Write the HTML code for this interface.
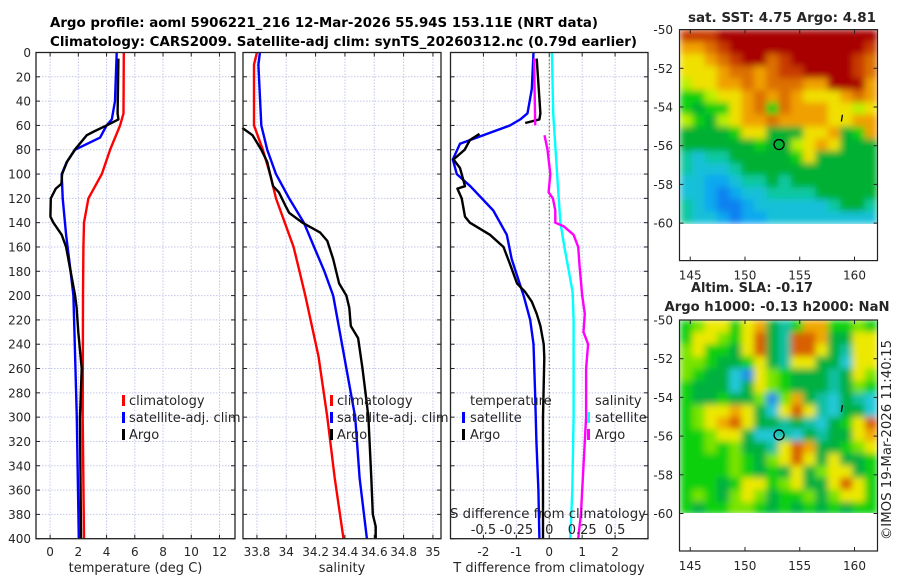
<!DOCTYPE html>
<html><head><meta charset="utf-8"><style>
html,body{margin:0;padding:0;background:#fff;}
svg{display:block;font-family:"DejaVu Sans","Liberation Sans",sans-serif;}
</style></head><body>
<svg id="fig" width="900" height="580" viewBox="0 0 900 580" xmlns="http://www.w3.org/2000/svg">
<defs>
<filter id="blur" x="0" y="0" width="1" height="1"><feGaussianBlur stdDeviation="3.5" edgeMode="duplicate"/></filter>
<clipPath id="clipTop"><rect x="680" y="30" width="197" height="194"/></clipPath>
<clipPath id="clipBot"><rect x="680" y="320" width="197" height="193"/></clipPath>
</defs>
<text x="50" y="27" font-size="13" font-weight="bold" textLength="548" lengthAdjust="spacingAndGlyphs">Argo profile: aoml 5906221_216 12-Mar-2026 55.94S 153.11E (NRT data)</text>
<text x="50" y="46" font-size="13" font-weight="bold" textLength="587" lengthAdjust="spacingAndGlyphs">Climatology: CARS2009. Satellite-adj clim: synTS_20260312.nc (0.79d earlier)</text>
<g id="plots"></g>
</svg>
<script>
// ---------- data ----------
const tempClimDepth = [0,50,60,80,100,120,140,160,200,300,400];
const tempClim      = [5.22,5.2,4.96,4.25,3.66,2.71,2.4,2.36,2.33,2.31,2.4];
const tempSatDepth  = [0,40,55,60,70,80,90,100,120,150,180,200,220,300,400];
const tempSat       = [4.72,4.6,4.37,4.0,3.54,1.77,1.18,0.82,0.89,1.13,1.45,1.65,1.7,1.89,2.03];
const tempArgoDepth = [5,50,55,60,65,68,75,80,90,100,108,112,120,135,140,150,160,200,210,230,260,300,400];
const tempArgo      = [4.84,4.78,4.84,4.0,3.1,2.6,2.1,1.75,1.2,0.85,0.8,0.4,0.05,0.02,0.23,0.82,1.13,1.77,1.88,2.0,2.24,2.12,2.19];

const salClimDepth = [0,10,60,80,100,120,140,160,180,200,250,300,350,400];
const salClim      = [33.8,33.78,33.78,33.84,33.89,33.93,33.99,34.05,34.09,34.13,34.22,34.28,34.33,34.39];
const salSatDepth  = [0,10,60,70,80,100,120,140,160,180,200,220,260,300,350,400];
const salSat       = [33.82,33.81,33.83,33.85,33.87,33.93,34.02,34.12,34.19,34.26,34.32,34.35,34.41,34.47,34.5,34.55];
const salArgoDepth = [62,68,80,90,100,110,115,125,132,140,148,155,170,190,200,210,225,235,260,280,300,350,380,390,400];
const salArgo      = [33.70,33.77,33.83,33.87,33.89,33.91,33.95,33.99,34.02,34.11,34.23,34.28,34.32,34.36,34.41,34.43,34.44,34.49,34.52,34.54,34.56,34.58,34.59,34.61,34.61];

const dTSatDepth  = [0,30,50,55,60,75,88,100,110,130,150,170,200,220,240,280,320,360,400];
const dTSat       = [-0.48,-0.53,-0.66,-0.88,-1.19,-2.71,-2.93,-2.81,-2.4,-1.7,-1.29,-1.14,-0.78,-0.58,-0.48,-0.43,-0.39,-0.33,-0.3];
const dTArgoDepth = [5,50,55,58,62,67,72,80,88,95,110,112,120,135,140,150,160,175,190,197,205,215,225,240,251,300,400];
const dTArgo      = [-0.38,-0.27,-0.3,-0.73,null,-2.12,-2.41,-2.57,-2.91,-2.71,-2.56,-2.79,-2.66,-2.56,-2.41,-1.8,-1.39,-1.18,-0.98,-0.73,-0.53,-0.38,-0.27,-0.17,-0.15,-0.19,-0.19];
const dSSatDepth  = [0,50,100,140,160,197,220,300,360,400];
const dSSat       = [0.02,0.03,0.06,0.085,0.115,0.177,0.185,0.185,0.175,0.16];
const dSArgoDepth = [5,60,64,68,80,100,115,120,130,140,143,150,160,175,200,215,230,240,260,300,320,340,360,380,400];
const dSArgo      = [-0.115,-0.107,null,-0.036,-0.013,0.008,-0.005,0.028,0.046,0.046,0.11,0.185,0.22,0.23,0.25,0.27,0.26,0.295,0.28,0.28,0.27,0.26,0.25,0.24,0.22];

const depthTicks = [0,20,40,60,80,100,120,140,160,180,200,220,240,260,280,300,320,340,360,380,400];
const tempTicks = [0,2,4,6,8,10,12];
const salTicks = [33.8,34,34.2,34.4,34.6,34.8,35];
const salTickLabels = ["33.8","34","34.2","34.4","34.6","34.8","35"];
const diffTicks = [-2,-1,0,1,2];
const sDiffTicks = [-0.5,-0.25,0,0.25,0.5];
const sDiffLabels = ["-0.5","-0.25","0","0.25","0.5"];
const latTicks = [-50,-52,-54,-56,-58,-60];
const lonTicks = [145,150,155,160];
const argoLon = 153.11, argoLat = -55.94;

const sstGrid = [
"rrrRRRRRRRRRRRRR","ooOrRRRRRRRRRRRr","yyoOrRROrRRRRRrO","yyyoOOoOrrRRRRrO",
"lyyooOoOOOooRRRo","gglyyoOoOoyyyoOo","gGggyoOgOoooyyly","lgGlyooOooooyyoo",
"GGGGgyyGGGyyoGgo","GGGGGGgGGlyoyGGG","tcttGGGGGgyGGGGG","tccctGGGGGGGGGGG",
"ccbbcttGtGGGGGGG","ccbBbccttttGGGGG","tcbBBbcccccctGGt","tccbBbbccccccccc"];
const slaGrid = [
"glyygyoGtgoogglg","gyylgyOGtOOoGGyy","lyggGyOGtOOyGtyy","llgGGgyGtyyGGcyy",
"lgGGcbylgGGGtGyl","gGGGcGylgGGGtGlg","gGGgGGlbloGtcGtc","glyyoyGcyOytcGGc",
"glyoOyGGtGtcGgyO","gglyyGcctcGtGGyo","gglglGGtyOoGGgly","gggglgGlyOyGyGGg",
"gggglgGgGyGlyyGg","gggGgyyglyGGyOyg","glgGlylGgglGlyyg","gGggllgGgGgGgGgg"];

// ---------- helpers ----------
const NS="http://www.w3.org/2000/svg";
const root=document.getElementById('plots');
function mk(tag,attrs,parent){const e=document.createElementNS(NS,tag);for(const k in attrs)e.setAttribute(k,attrs[k]);(parent||root).appendChild(e);return e;}
const Y0=52.5,Y1=538.7;
const yD=d=>Y0+(Y1-Y0)*d/400;
function lin(d0,d1,r0,r1){return v=>r0+(v-d0)*(r1-r0)/(d1-d0);}
const xT=lin(-1,13.1,36,235);
const xS=lin(33.705,35.055,243,441);
const xD=lin(-3,3,450.5,648);

function grid(x0,x1,xs,fx){
  depthTicks.forEach(d=>{const l=mk('line',{x1:x0,x2:x1,y1:yD(d),y2:yD(d),stroke:'#c4c8e8','stroke-width':1,'stroke-dasharray':'1.5,1.5'});
  
  
  mk('line',{x1:x0,x2:x0+4,y1:yD(d),y2:yD(d),stroke:'#222'});mk('line',{x1:x1-4,x2:x1,y1:yD(d),y2:yD(d),stroke:'#222'});});
  xs.forEach(v=>{const x=fx(v);const l=mk('line',{x1:x,x2:x,y1:Y0,y2:Y1,stroke:'#c4c8e8','stroke-width':1,'stroke-dasharray':'1.5,1.5'});
  
  
  mk('line',{x1:x,x2:x,y1:Y1-4,y2:Y1,stroke:'#222'});mk('line',{x1:x,x2:x,y1:Y0,y2:Y0+4,stroke:'#222'});});
}
function frame(x0,x1,name){const r=mk('rect',{x:x0,y:Y0,width:x1-x0,height:Y1-Y0,fill:'none',stroke:'#222','stroke-width':1.3});
  
  }
function line(depths,vals,fx,color,name,w){
  let d='',pen=false;
  depths.forEach((z,i)=>{const v=vals[i];if(v===null||v===undefined){pen=false;return;}
    d+=(pen?'L':'M')+fx(v).toFixed(1)+','+yD(z).toFixed(1);pen=true;});
  const p=mk('path',{d:d,fill:'none',stroke:color,'stroke-width':w||2.4,'stroke-linejoin':'round'});
  
  
}
function txt(x,y,s,opt,name){const t=mk('text',Object.assign({x:x,y:y,'font-size':13,fill:'#262626'},opt||{}));t.textContent=s;
  
  return t;}
function mark(x,y,color,name){const r=mk('rect',{x:x,y:y-10,width:3,height:11,fill:color});
  
  }
const TK={'font-size':12,'text-anchor':'middle'};

// ---------- panel 1 temperature ----------
grid(36,235,tempTicks,xT);
depthTicks.forEach(d=>txt(31,yD(d)+4.5,String(d),{'text-anchor':'end','font-size':12},'y-tick-label'));
tempTicks.forEach(v=>txt(xT(v),556,String(v),TK,'x-tick-label-temp'));
txt(135.5,572,'temperature (deg C)',{'text-anchor':'middle'},'x-axis-title-temp');
line(tempClimDepth,tempClim,xT,'#f00','temp-climatology-line');
line(tempSatDepth,tempSat,xT,'#00f','temp-satellite-line');
line(tempArgoDepth,tempArgo,xT,'#000','temp-argo-line');
frame(36,235,'temp-panel');
mark(122,405,'#f00','legend-marker-climatology');txt(129,405,'climatology',{},'legend-entry-climatology');
mark(122,422,'#00f','legend-marker-satellite');txt(129,422,'satellite-adj. clim',{},'legend-entry-satellite');
mark(122,439,'#000','legend-marker-argo');txt(129,439,'Argo',{},'legend-entry-argo');

// ---------- panel 2 salinity ----------
grid(243,441,salTicks,xS);
salTicks.forEach((v,i)=>txt(xS(v),556,salTickLabels[i],TK,'x-tick-label-sal'));
txt(342,572,'salinity',{'text-anchor':'middle'},'x-axis-title-sal');
line(salClimDepth,salClim,xS,'#f00','sal-climatology-line');
line(salSatDepth,salSat,xS,'#00f','sal-satellite-line');
line(salArgoDepth,salArgo,xS,'#000','sal-argo-line');
frame(243,441,'salinity-panel');
mark(330,405,'#f00','legend-marker-climatology');txt(337,405,'climatology',{},'legend-entry-climatology');
mark(330,422,'#00f','legend-marker-satellite');txt(337,422,'satellite-adj. clim',{},'legend-entry-satellite');
mark(330,439,'#000','legend-marker-argo');txt(337,439,'Argo',{},'legend-entry-argo');

// ---------- panel 3 differences ----------
grid(450.5,648,diffTicks,xD);
const zl=mk('line',{x1:xD(0),x2:xD(0),y1:Y0,y2:Y1,stroke:'#556b2f','stroke-width':1,'stroke-dasharray':'1.5,2'});


diffTicks.forEach(v=>txt(xD(v),556,String(v),TK,'x-tick-label-diff'));
txt(549,572,'T difference from climatology',{'text-anchor':'middle'},'x-axis-title-diff');
const xSD=v=>xD(v*4);
line(dTSatDepth,dTSat,xD,'#00f','dT-satellite-line');
line(dTArgoDepth,dTArgo,xD,'#000','dT-argo-line');
line(dSSatDepth,dSSat,xSD,'#0ff','dS-satellite-line');
line(dSArgoDepth,dSArgo,xSD,'#f0f','dS-argo-line');
frame(450.5,648,'difference-panel');
txt(470,405,'temperature',{},'legend-title-temperature');
mark(462,422,'#00f','legend-marker-t-satellite');txt(470,422,'satellite',{},'legend-entry-t-satellite');
mark(462,439,'#000','legend-marker-t-argo');txt(470,439,'Argo',{},'legend-entry-t-argo');
txt(595,405,'salinity',{},'legend-title-salinity');
mark(587,422,'#0ff','legend-marker-s-satellite');txt(595,422,'satellite',{},'legend-entry-s-satellite');
mark(587,439,'#f0f','legend-marker-s-argo');txt(595,439,'Argo',{},'legend-entry-s-argo');
txt(450,518,'S difference from climatology',{textLength:196,lengthAdjust:'spacingAndGlyphs'},'s-axis-title');
sDiffTicks.forEach((v,i)=>txt(xSD(v),534,sDiffLabels[i],{'text-anchor':'middle'},'s-tick-label'));

// ---------- maps ----------
const sstCol={R:'#a80000',r:'#c83a00',O:'#dc7000',o:'#f0a000',y:'#f0e000',l:'#b8f000',g:'#10d010',G:'#00b030',t:'#10c8a0',c:'#18c0d8',b:'#10a8f0',B:'#1080f0'};
const slaCol={g:'#10d010',G:'#00b040',l:'#78e400',y:'#ece800',o:'#f0a800',O:'#d86000',t:'#10c0a0',c:'#20c8d8',b:'#2090e8'};
const mx=lin(144.02,162.1,679.5,877.5);
function drawMap(gridRows,cols,yTop,clip,name){
  const yLat=lin(-50,-60,yTop,yTop+193.5);
  const g=mk('g',{'clip-path':'url(#'+clip+')'});
  
  
  const gi=mk('g',{filter:'url(#blur)'},g);
  const n=gridRows.length,m=gridRows[0].length,cw=197/m,ch=194/n;
  gridRows.forEach((row,i)=>{for(let j=0;j<m;j++){
    const r=mk('rect',{x:680+j*cw,y:yTop+i*ch,width:cw+0.6,height:ch+0.6,fill:cols[row[j]]},gi);
    
    
  }});
  const box=mk('rect',{x:679.5,y:yTop,width:198,height:231,fill:'none',stroke:'#222','stroke-width':1.2});
  
  
  latTicks.forEach(v=>{const y=yLat(v);mk('line',{x1:679.5,x2:683.5,y1:y,y2:y,stroke:'#222'});mk('line',{x1:873.5,x2:877.5,y1:y,y2:y,stroke:'#222'});
    txt(673,y+4.5,String(v),{'text-anchor':'end','font-size':12},name+'-lat-label');});
  lonTicks.forEach(v=>{const x=mx(v);mk('line',{x1:x,x2:x,y1:yTop+227,y2:yTop+231,stroke:'#222'});mk('line',{x1:x,x2:x,y1:yTop,y2:yTop+4,stroke:'#222'});
    txt(x,yTop+250,String(v),TK,name+'-lon-label');});
  const c=mk('circle',{cx:mx(argoLon),cy:yLat(argoLat),r:5,fill:'none',stroke:'#000','stroke-width':1.3});
  
  
  mk('line',{x1:mx(158.9),x2:mx(158.8),y1:yLat(-54.4),y2:yLat(-54.75),stroke:'#000','stroke-width':1.3});
}
drawMap(sstGrid,sstCol,29.6,'clipTop','sst-map');
drawMap(slaGrid,slaCol,320,'clipBot','sla-map');
txt(782,22,'sat. SST: 4.75 Argo: 4.81',{'text-anchor':'middle','font-weight':'bold',textLength:188,lengthAdjust:'spacingAndGlyphs'},'sst-map-title');
txt(752,292,'Altim. SLA: -0.17',{'text-anchor':'middle','font-weight':'bold',textLength:122,lengthAdjust:'spacingAndGlyphs'},'sla-map-title');
txt(777,311,'Argo h1000: -0.13 h2000: NaN',{'text-anchor':'middle','font-weight':'bold',textLength:225,lengthAdjust:'spacingAndGlyphs'},'sla-map-subtitle');
txt(0,0,'©IMOS 19-Mar-2026 11:40:15',{'text-anchor':'middle',transform:'translate(891,440) rotate(-90)',textLength:200,lengthAdjust:'spacingAndGlyphs'},'timestamp');
</script>
</body></html>
